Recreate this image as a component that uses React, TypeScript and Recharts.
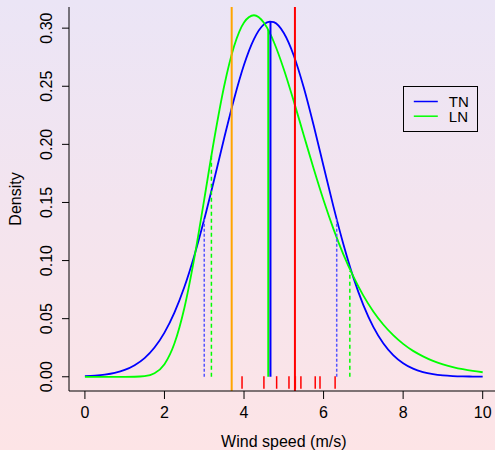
import React from "react";
import { LineChart, Line, XAxis, YAxis, ReferenceLine, Legend } from "recharts";

// Grid of wind speeds (m/s) at which the densities were read
const windSpeeds = [
  0, 0.25, 0.5, 0.75, 1, 1.25, 1.5, 1.75, 2, 2.25, 2.5, 2.75, 3, 3.25, 3.5, 3.75, 4, 4.25, 4.5, 4.65, 4.75,
  5, 5.25, 5.5, 5.75, 6, 6.25, 6.5, 6.75, 7, 7.25, 7.5, 7.75, 8, 8.25, 8.5, 8.75, 9, 9.25, 9.5, 9.75, 10,
];
// Truncated normal density (blue)
const tnDensity = [
  0.0005, 0.001, 0.0019, 0.0034, 0.0059, 0.01, 0.0161, 0.0252, 0.038, 0.0552, 0.0772, 0.1042, 0.1355, 0.1698,
  0.2052, 0.2391, 0.2685, 0.2906, 0.3033, 0.3057, 0.3051, 0.2958, 0.2765, 0.2491, 0.2164, 0.1812, 0.1462, 0.1138,
  0.0853, 0.0617, 0.043, 0.0289, 0.0187, 0.0117, 0.007, 0.0041, 0.0023, 0.0012, 0.0006, 0.0003, 0.0002, 0.0001,
];
// Log-normal density (green)
const lnDensity = [
  0, 0, 0, 0, 0, 0.00004, 0.0005, 0.003, 0.0108, 0.0286, 0.0592, 0.1021, 0.1527, 0.2044, 0.25, 0.2844, 0.3049,
  0.3111, 0.3046, 0.2957, 0.2881, 0.2647, 0.2372, 0.2081, 0.1792, 0.1519, 0.1271, 0.1051, 0.0861, 0.0698, 0.0562,
  0.045, 0.0358, 0.0283, 0.0223, 0.0176, 0.0137, 0.0107, 0.0084, 0.0065, 0.005, 0.0039,
];

const seriesOrder = ["TN", "LN"];

// Observed wind speeds (rug)
const observations = [3.95, 4.5, 4.82, 5.13, 5.29, 5.43, 5.79, 5.91, 6.29];
const rugBottom = -0.0103;
const rugTop = 0.0005;

// Full-height reference lines
const orangeLineX = 3.69;
const redLineX = 5.28;

// Median lines (x, density at x)
const tnMedian = { x: 4.665, y: 0.3057 };
const lnMedian = { x: 4.61, y: 0.2984 };

// 10% / 90% quantile lines
const tnQuantiles = [
  { x: 3.0, y: 0.1355 },
  { x: 6.33, y: 0.1355 },
];
const lnQuantiles = [
  { x: 3.18, y: 0.1906 },
  { x: 6.66, y: 0.091 },
];

const xTicks = [0, 2, 4, 6, 8, 10];
const yTicks = [0, 0.05, 0.1, 0.15, 0.2, 0.25, 0.3];
const xDomain = [-0.4, 10.4];
const yDomain = [-0.01224, 0.3182];

const data = windSpeeds.map((x, i) => ({ x, tn: tnDensity[i], ln: lnDensity[i] }));

const FONT = "'Liberation Sans', Arial, Helvetica, sans-serif";
const FS = 16;

const XTick = (props: any) => {
  const { x, y, payload } = props;
  return (
    <text x={x} y={y + 16.5} textAnchor="middle" fontFamily={FONT} fontSize={FS} fill="#000">
      {payload.value}
    </text>
  );
};

const YTick = (props: any) => {
  const { x, y, payload } = props;
  return (
    <text
      transform={`translate(${x - 8}, ${y}) rotate(-90)`}
      textAnchor="middle"
      fontFamily={FONT}
      fontSize={FS}
      fill="#000"
    >
      {Number(payload.value).toFixed(2)}
    </text>
  );
};

const YLabel = (props: any) => {
  const vb = props.viewBox || { x: 0, y: 7, width: 69, height: 384 };
  const cy = vb.y + vb.height / 2;
  return (
    <text
      transform={`translate(21, ${cy}) rotate(-90)`}
      textAnchor="middle"
      fontFamily={FONT}
      fontSize={FS}
      fill="#000"
    >
      Density
    </text>
  );
};

const XLabel = (props: any) => {
  const vb = props.viewBox || { x: 69, y: 391, width: 430, height: 59 };
  const cx = vb.x + vb.width / 2;
  return (
    <text x={cx} y={446.5} textAnchor="middle" fontFamily={FONT} fontSize={FS} fill="#000">
      Wind speed (m/s)
    </text>
  );
};

const renderLegend = (props: any) => {
  const payload = ((props.payload || []) as any[])
    .slice()
    .sort((a, b) => seriesOrder.indexOf(a.value) - seriesOrder.indexOf(b.value));
  return (
    <svg width={75} height={46} style={{ display: "block" }}>
      <rect x={0.5} y={0.5} width={74} height={45} fill="none" stroke="#000" strokeWidth={1} />
      {payload.map((p, i) => (
        <g key={p.value}>
          <line x1={10.8} x2={34.8} y1={15.5 + 14.7 * i} y2={15.5 + 14.7 * i} stroke={p.color} strokeWidth={1.5} />
          <text x={45.8} y={20.8 + 14.7 * i} fontFamily={FONT} fontSize={15} fill="#000">
            {p.value}
          </text>
        </g>
      ))}
    </svg>
  );
};

export default function App() {
  return (
    <div
      style={{
        position: "absolute",
        left: 0,
        top: 0,
        width: 495,
        height: 450,
        overflow: "hidden",
        background: "linear-gradient(to bottom, #EBE5F6 0%, #F4E4EE 50%, #FDE4E6 100%)",
      }}
    >
      <LineChart width={500} height={450} data={data} margin={{ top: 7, right: 1.4, left: 0, bottom: 0 }}>
        <XAxis
          dataKey="x"
          type="number"
          domain={xDomain}
          ticks={xTicks}
          allowDataOverflow
          height={59}
          tickSize={8}
          tickMargin={2}
          tick={<XTick />}
          stroke="#000"
          axisLine={{ stroke: "#000", strokeWidth: 1 }}
          tickLine={{ stroke: "#000" }}
          label={{ content: <XLabel /> }}
        />
        <XAxis
          xAxisId="top"
          dataKey="x"
          type="number"
          orientation="top"
          domain={xDomain}
          allowDataOverflow
          height={0}
          tick={false}
          tickLine={false}
          axisLine={{ stroke: "#666", strokeWidth: 1.5 }}
        />
        <YAxis
          type="number"
          domain={yDomain}
          ticks={yTicks}
          allowDataOverflow
          width={69}
          tickSize={7}
          tickMargin={2}
          tick={<YTick />}
          axisLine={{ stroke: "#000", strokeWidth: 1 }}
          tickLine={{ stroke: "#000" }}
          label={{ content: <YLabel /> }}
        />
        <Line
          name="TN"
          dataKey="tn"
          type="monotone"
          stroke="#0000FF"
          strokeWidth={1.8}
          dot={false}
          activeDot={false}
          isAnimationActive={false}
        />
        <Line
          name="LN"
          dataKey="ln"
          type="monotone"
          stroke="#00FF00"
          strokeWidth={1.8}
          dot={false}
          activeDot={false}
          isAnimationActive={false}
        />
        {tnQuantiles.map((q) => (
          <ReferenceLine
            key={"tnq" + q.x}
            segment={[
              { x: q.x, y: 0 },
              { x: q.x, y: q.y },
            ]}
            stroke="#5555FF"
            strokeWidth={1.5}
            strokeDasharray="3 2"
          />
        ))}
        {lnQuantiles.map((q) => (
          <ReferenceLine
            key={"lnq" + q.x}
            segment={[
              { x: q.x, y: 0 },
              { x: q.x, y: q.y },
            ]}
            stroke="#00FF00"
            strokeWidth={1.5}
            strokeDasharray="4 3"
          />
        ))}
        <ReferenceLine
          segment={[
            { x: lnMedian.x, y: 0 },
            { x: lnMedian.x, y: lnMedian.y },
          ]}
          stroke="#00FF00"
          strokeWidth={2}
        />
        <ReferenceLine
          segment={[
            { x: tnMedian.x, y: 0 },
            { x: tnMedian.x, y: tnMedian.y },
          ]}
          stroke="#0000FF"
          strokeWidth={2}
        />
        <ReferenceLine x={orangeLineX} stroke="#FFA500" strokeWidth={2} />
        <ReferenceLine x={redLineX} stroke="#FF0000" strokeWidth={2} />
        {observations.map((o) => (
          <ReferenceLine
            key={"rug" + o}
            segment={[
              { x: o, y: rugBottom },
              { x: o, y: rugTop },
            ]}
            stroke="#FF0000"
            strokeWidth={1.5}
          />
        ))}
        <Legend
          layout="vertical"
          align="center"
          verticalAlign="middle"
          itemSorter={null as any}
          content={renderLegend}
          wrapperStyle={{ left: 402.5, top: 85.5, width: 75, height: 46 }}
        />
      </LineChart>
    </div>
  );
}
